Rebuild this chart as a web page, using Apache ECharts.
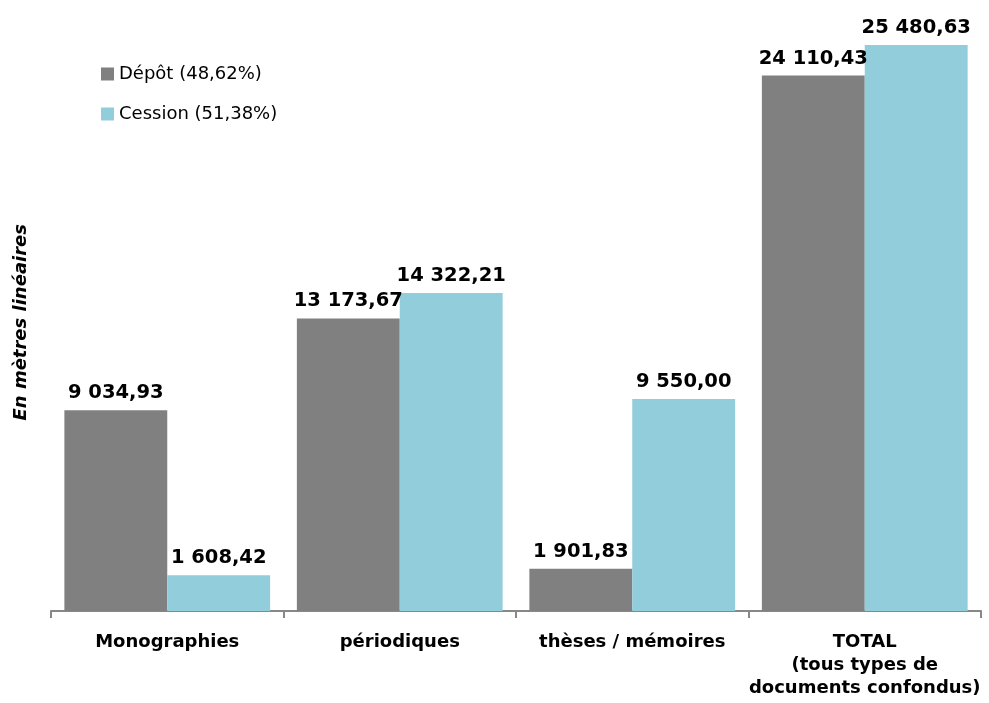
<!DOCTYPE html>
<html>
<head>
<meta charset="utf-8">
<script src="https://cdn.jsdelivr.net/npm/echarts@6/dist/echarts.min.js"></script>
<style>
  html, body { margin: 0; padding: 0; background: #fff; }
  #chart { width: 989px; height: 703px; }
</style>
</head>
<body>
<div id="chart"></div>
<script>
const categories = ['Monographies', 'périodiques', 'thèses / mémoires', 'TOTAL\n(tous types de\ndocuments confondus)']
const depot = [9034.93, 13173.67, 1901.83, 24110.43]
const cession = [1608.42, 14322.21, 9550.00, 25480.63]
const seriesNames = ['Dépôt (48,62%)', 'Cession (51,38%)']

// 9 034,93 style
function fmt(v) {
  const parts = v.toFixed(2).split('.')
  return parts[0].replace(/\B(?=(\d{3})+(?!\d))/g, ' ') + ',' + parts[1]
}

const labelStyle = {
  show: true, position: 'top', distance: 7,
  color: '#000', fontFamily: 'DejaVu Sans', fontWeight: 'bold', fontSize: 19.5,
  formatter: (p) => fmt(p.value)
}

const chart = echarts.init(document.getElementById('chart'))
chart.setOption({
  animation: false,
  backgroundColor: '#fff',
  grid: { left: 51, right: 8, top: 33.5, bottom: 92 },
  legend: {
    orient: 'vertical', left: 96, top: 60, itemGap: 22,
    itemWidth: 13, itemHeight: 13, icon: 'rect',
    textStyle: { fontFamily: 'DejaVu Sans', fontSize: 18, color: '#000' },
    data: seriesNames
  },
  xAxis: {
    type: 'category', data: categories,
    axisLine: { lineStyle: { color: '#888', width: 2 } },
    axisTick: { show: true, length: 7, lineStyle: { color: '#888', width: 2 } },
    axisLabel: {
      color: '#000', fontFamily: 'DejaVu Sans', fontWeight: 'bold', fontSize: 18,
      lineHeight: 23, margin: 20, interval: 0
    }
  },
  yAxis: {
    type: 'value', min: 0, max: 26000,
    name: 'En mètres linéaires', nameLocation: 'middle', nameRotate: 90, nameGap: 21,
    nameTextStyle: { fontFamily: 'DejaVu Sans', fontWeight: 'bold', fontStyle: 'italic', fontSize: 18, color: '#000' },
    axisLine: { show: false }, axisTick: { show: false },
    axisLabel: { show: false }, splitLine: { show: false }
  },
  series: [
    { name: seriesNames[0], type: 'bar', data: depot, barGap: '0%', barCategoryGap: '11.5%',
      itemStyle: { color: '#808080' }, label: labelStyle },
    { name: seriesNames[1], type: 'bar', data: cession,
      itemStyle: { color: '#92CDDC' }, label: labelStyle }
  ]
})
</script>
</body>
</html>
